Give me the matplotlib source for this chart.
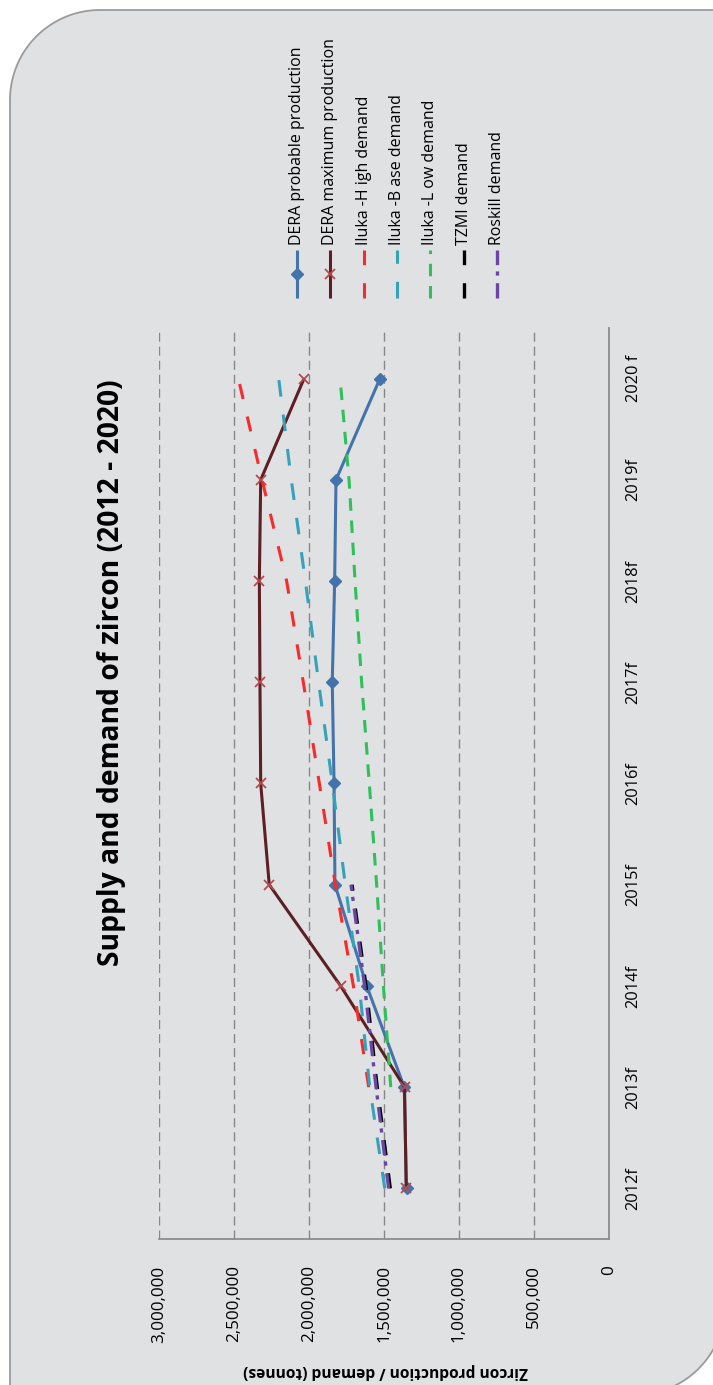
import numpy as np
import matplotlib
matplotlib.use("Agg")
import matplotlib.pyplot as plt
from matplotlib.lines import Line2D
from matplotlib.patches import PathPatch
from matplotlib.path import Path

plt.rcParams["font.family"] = ["Open Sans", "DejaVu Sans"]
plt.rcParams["lines.scale_dashes"] = False

# ---- data -------------------------------------------------------------
years = ["2012f", "2013f", "2014f", "2015f", "2016f", "2017f", "2018f", "2019f", "2020 f"]

dera_probable = [1350000, 1365000, 1615000, 1827000, 1833000, 1845000, 1829000, 1820000, 1527000]
dera_maximum = [1352000, 1363000, 1789000, 2265000, 2322000, 2327000, 2331000, 2322000, 2033000]
iluka_high = [np.nan, 1602000, 1704000, 1824000, 1931000, 2038000, 2149000, 2313000, 2471000]
iluka_base = [1495000, 1595000, 1665000, 1758000, 1844000, 1936000, 2024000, 2118000, 2202000]
iluka_low = [np.nan, 1455000, 1504000, 1549000, 1598000, 1649000, 1693000, 1733000, 1793000]
tzmi = [1458000, 1545000, 1620000, 1713000, np.nan, np.nan, np.nan, np.nan, np.nan]
roskill = [1469000, 1553000, 1629000, 1720000, np.nan, np.nan, np.nan, np.nan, np.nan]

value_ticks = [0, 500000, 1000000, 1500000, 2000000, 2500000, 3000000]

title = "Supply and demand of zircon (2012 - 2020)"
value_label = "Zircon production / demand (tonnes)"

series = [
    ("DERA probable production", dera_probable,
     dict(color="#4473ab", lw=2.2, ls="-", marker="D", ms=6.5, mfc="#4473ab", mec="#4473ab")),
    ("DERA maximum production", dera_maximum,
     dict(color="#5c1f26", lw=2.2, ls="-", marker="x", ms=7.5, mec="#b54a4e", mew=1.3)),
    ("Iluka -H igh demand", iluka_high,
     dict(color="#f72b2b", lw=2.2, dashes=(11, 13))),
    ("Iluka -B ase demand", iluka_base,
     dict(color="#35a2ba", lw=2.2, dashes=(12, 13))),
    ("Iluka -L ow demand", iluka_low,
     dict(color="#2fbf5b", lw=2.2, dashes=(9, 7))),
    ("TZMI demand", tzmi,
     dict(color="#000000", lw=2.4, dashes=(11, 13))),
    ("Roskill demand", roskill,
     dict(color="#6b45a3", lw=2.4, dashes=(11, 5.5, 3, 4.5))),
]

# ---- figure -------------------------------------------------------------
W, H = 713, 1385
fig = plt.figure(figsize=(W / 100, H / 100), dpi=100, facecolor="white")


def fx(px):
    return px / W


def fy(py):
    return 1 - py / H


# chart area background with two rounded diagonal corners
r = 90
L, T, R, B = 10, 10, 725, 1395
t1 = np.linspace(np.pi, 1.5 * np.pi, 40)
t2 = np.linspace(0, 0.5 * np.pi, 40)
pts = [(L + r + r * np.cos(t), T + r + r * np.sin(t)) for t in t1]
pts += [(R, T)]
pts += [(R - r + r * np.cos(t), B - r + r * np.sin(t)) for t in t2]
pts += [(L, B), (L, T + r)]
verts = [(fx(x), fy(y)) for x, y in pts]
frame = PathPatch(Path(verts, closed=True), transform=fig.transFigure,
                  facecolor="#e0e1e3", edgecolor="#9b9b9b", lw=1.3, zorder=-5)
fig.add_artist(frame)

# plot area: values run right-to-left, years bottom-to-top
ax = fig.add_axes([fx(159), fy(1239), fx(609) - fx(159), fy(328) - fy(1239)])
ax.set_facecolor("none")
ypos = np.arange(len(years))

for z, (name, vals, style) in enumerate(series):
    ax.plot(vals, ypos, zorder=3 + z, solid_capstyle="butt", dash_capstyle="butt",
            clip_on=False, **style)

ax.set_xlim(3000000, 0)
ax.set_ylim(-0.5, len(years) - 0.5)

ax.set_xticks(value_ticks)
ax.set_xticklabels([f"{v:,}" for v in value_ticks], rotation=90, fontsize=12.3)
ax.tick_params(axis="x", length=0, pad=19)

ax.yaxis.tick_right()
ax.set_yticks(ypos)
ax.set_yticklabels(years, rotation=90, va="center", fontsize=11.8)
ax.tick_params(axis="y", length=0, pad=12)

for side in ("left", "top"):
    ax.spines[side].set_visible(False)
for side in ("right", "bottom"):
    ax.spines[side].set_color("#8c8c8c")
    ax.spines[side].set_linewidth(1.3)
    ax.spines[side].set_zorder(2)

ax.xaxis.grid(True, color="#878787", lw=1.0, dashes=(6.5, 3.6), zorder=1)
ax.set_axisbelow(True)

# titles
fig.text(fx(112), fy(673), title, rotation=90, ha="center", va="center",
         fontsize=20.3, fontweight="bold")
fig.text(fx(386), fy(1371), value_label, rotation=180, ha="center", va="center",
         fontsize=11.2, fontweight="bold")

# legend drawn as vertical columns
for i, (name, vals, style) in enumerate(series):
    x = fx(297 + 33.3 * i)
    st = dict(style)
    marker = st.pop("marker", None)
    ms = st.pop("ms", None)
    mfc = st.pop("mfc", None)
    mec = st.pop("mec", None)
    mew = st.pop("mew", None)
    fig.add_artist(Line2D([x, x], [fy(298), fy(250)], transform=fig.transFigure,
                          solid_capstyle="butt", dash_capstyle="butt", **st))
    if marker is not None:
        fig.add_artist(Line2D([x], [fy(274)], transform=fig.transFigure, ls="none",
                              marker=marker, ms=ms,
                              mfc=mfc if mfc else "none", mec=mec, mew=mew if mew else 1))
    fig.text(x, fy(245), name, rotation=90, ha="center", va="bottom", fontsize=11.5)

fig.savefig("out.png", dpi=100, facecolor="white")
